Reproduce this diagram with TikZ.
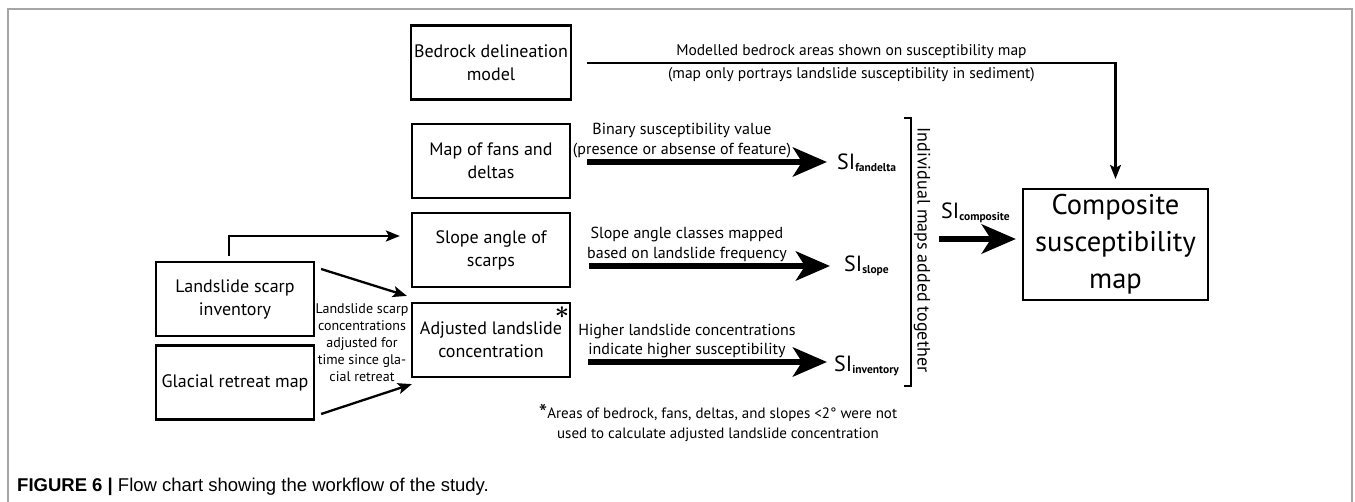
\documentclass[tikz,border=0pt]{standalone}
\usepackage{bm}
\usepackage{fontspec}
\setmainfont{PT Sans}
\newfontfamily\capfont{Liberation Sans}
\usepackage{tikz}
\usetikzlibrary{calc}
\usetikzlibrary{arrows.meta}
\tikzset{
  box/.style={
    draw=black,line width=2.2pt,minimum width=158pt,minimum height=74pt,
    align=center,font=\fontsize{18}{23}\selectfont,
  },
  lab/.style={align=center,font=\fontsize{16}{19.5}\selectfont},
  silab/.style={anchor=west,inner sep=0pt},
  thinarrow/.style={line width=2.3pt,-{Stealth[length=14pt,width=11pt,inset=3pt]}},
  bigarrow/.style={line width=6.5pt,-{Stealth[length=34pt,width=29pt,inset=9pt]}},
}
\newcommand{\silabel}[1]{{\fontsize{22}{22}\selectfont SI}\raisebox{-2pt}{\fontsize{11.5}{11.5}\selectfont\bfseries #1}}

\begin{document}
\begin{tikzpicture}[x=1pt,y=-1pt]
        \useasboundingbox (0,0) rectangle (1355,502);
        % frame
        \draw[gray!70,line width=1.5pt] (8,502) -- (8,9) -- (1352,9) -- (1352,502);
        % boxes
        \node[box] (bed) at (491,62.5) {Bedrock delineation\\model};
        \node[box] (fan) at (491,161) {Map of fans and\\deltas};
        \node[box] (slo) at (491,250) {Slope angle of\\scarps};
        \node[box] (adj) at (491,340) {Adjusted landslide\\concentration};
        \node[box] (inv) at (235,299) {Landslide scarp\\inventory};
        \node[box] (gla) at (235,382.5) {Glacial retreat map};
        \node[box,minimum width=185pt,minimum height=111pt,font=\fontsize{28.5}{37}\selectfont]
            (comp) at (1115.5,244.5) {Composite\\susceptibility\\map};
        \node[font=\fontsize{26}{26}\selectfont,inner sep=0pt] (ast) at (562,313) {$\bm{\ast}$};
        % susceptibility indices
        \node[silab] (sifan) at (837,163) {\silabel{fandelta}};
        \node[silab] (sislo) at (844,266) {\silabel{slope}};
        \node[silab] (siinv) at (834,366) {\silabel{inventory}};
        \node[silab] (sicomp) at (941,213) {\silabel{composite}};
        % labels
        \node[lab] (tfan) at (682,140.5) {Binary susceptibility value\\(presence or absense of feature)};
        \node[lab] (tslo) at (687,244.5) {Slope angle classes mapped\\based on landslide frequency};
        \node[lab] (tinv) at (687,341) {Higher landslide concentrations\\indicate higher susceptibility};
        \node[align=center,font=\fontsize{14}{17}\selectfont] (tmid) at (362,342.5)
            {Landslide scarp\\concentrations\\adjusted for\\time since gla-\\cial retreat};
        \node[rotate=-90,font=\fontsize{18}{18}\selectfont] (tsum) at (922,250) {Individual maps added together};
        \node[lab,font=\fontsize{15}{20}\selectfont] (note) at (718,423)
            {\raisebox{-3pt}{\fontsize{24}{20}\selectfont *}Areas of bedrock, fans, deltas, and slopes <2° were not\\used to calculate adjusted landslide concentration};
        % arrow end points
        \coordinate (f0) at ($(fan.east)+(16,1)$);
        \coordinate (s0) at ($(slo.east)+(18,16)$);
        \coordinate (i0) at ($(adj.east)+(17,22)$);
        \coordinate (c0) at ($(comp.west)+(-83,-5.5)$);
        % arrows
        \draw[thinarrow,shorten >=9pt] ($(bed.east)+(15,0.5)$) -|
            node[pos=0.25,above=0pt,lab,font=\fontsize{15.5}{19}\selectfont] (tbed1) {Modelled bedrock areas shown on susceptibility map}
            node[pos=0.25,below=0pt,lab,font=\fontsize{15.5}{19}\selectfont] (tbed2) {(map only portrays landslide susceptibility in sediment)}
            (comp.north);
        \draw[bigarrow,shorten >=10pt] (f0) -- (f0 -| sifan.west);
        \draw[bigarrow,shorten >=14pt] (s0) -- (s0 -| sislo.west);
        \draw[bigarrow,shorten >=7pt] (i0) -- (i0 -| siinv.west);
        \draw[bigarrow,shorten >=6pt] (c0) -- (c0 -| comp.west);
        \draw[thinarrow,shorten >=11pt] ($(inv.north)+(-6,-5)$) |- ($(slo.west)+(0,-14)$);
        \draw[thinarrow] ($(inv.east)+(6,-30)$) -- ($(adj.north west)+(-4,-6)$);
        \draw[thinarrow] ($(gla.east)+(6,31.5)$) -- ($(adj.south west)+(1,6)$);
        % bracket
        \draw[line width=2.2pt] (904,118) -- (911,118) -- (911,386) -- (904,386);
        % caption
        \node[anchor=base west,inner sep=0pt,font=\capfont\fontsize{18.5}{18.5}\selectfont] (cap) at (17,491)
            {\textbf{FIGURE 6 |} Flow chart showing the workflow of the study.};
\end{tikzpicture}
\end{document}
